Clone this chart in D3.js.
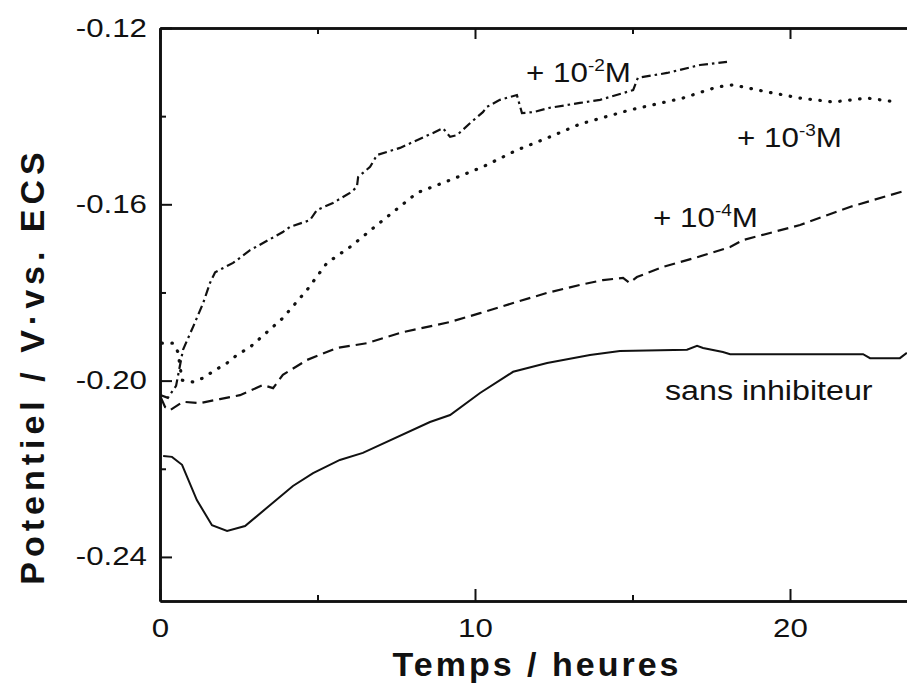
<!DOCTYPE html>
<html lang="fr">
<head>
<meta charset="UTF-8">
<title>Potentiel vs temps</title>
<script src="https://cdn.jsdelivr.net/npm/d3@7"></script>
<style>
  body { margin: 0; background: #fff; }
  text { font-family: "Liberation Sans", Arial, sans-serif; fill: #111; }
</style>
</head>
<body>
<svg id="chart" width="907" height="687"></svg>
<script>
// tick values / labels
const xTicks = [0, 10, 20];
const xMinor = [5, 15];
const yTicks = [-0.24, -0.20, -0.16, -0.12];
const yTickLabels = ["-0.24", "-0.20", "-0.16", "-0.12"];
const yMinor = [-0.22, -0.18, -0.14];

// sans inhibiteur (solid)
const tSans = [0.10,0.38,0.70,1.17,1.65,2.13,2.70,4.22,4.86,5.71,6.44,8.57,9.21,10.16,11.21,12.29,13.65,14.60,16.73,17.05,17.24,17.87,18.10,22.32,22.54,23.49,23.71];
const vSans = [-0.2171,-0.2173,-0.2191,-0.2271,-0.2328,-0.2341,-0.2330,-0.2239,-0.2210,-0.2180,-0.2164,-0.2094,-0.2078,-0.2028,-0.1980,-0.1960,-0.1942,-0.1933,-0.1930,-0.1921,-0.1926,-0.1935,-0.1940,-0.1940,-0.1949,-0.1949,-0.1937];

// + 10-4 M (dashed)
const t4 = [0.03,0.16,0.32,0.73,1.27,1.90,2.54,3.27,3.59,3.90,4.67,5.62,6.57,7.71,9.21,10.16,11.21,12.29,13.33,14.06,14.70,14.90,15.14,15.97,17.05,18.10,18.51,20.32,21.90,23.71];
const v4 = [-0.2039,-0.2060,-0.2067,-0.2048,-0.2051,-0.2042,-0.2033,-0.2010,-0.2017,-0.1987,-0.1953,-0.1926,-0.1915,-0.1890,-0.1867,-0.1847,-0.1824,-0.1801,-0.1783,-0.1772,-0.1767,-0.1778,-0.1765,-0.1742,-0.1720,-0.1697,-0.1681,-0.1647,-0.1606,-0.1568];

// + 10-3 M (dotted)
const t3 = [0.06,0.41,0.57,0.70,1.05,1.37,1.75,2.13,2.44,2.86,3.90,4.67,5.30,6.03,7.08,8.16,9.21,10.25,11.33,12.38,13.33,14.92,16.60,17.68,18.19,19.27,20.32,21.37,22.44,23.40];
const v3 = [-0.1915,-0.1915,-0.1935,-0.1999,-0.2003,-0.1994,-0.1976,-0.1960,-0.1942,-0.1924,-0.1858,-0.1794,-0.1733,-0.1697,-0.1636,-0.1574,-0.1545,-0.1515,-0.1477,-0.1447,-0.1418,-0.1386,-0.1359,-0.1334,-0.1329,-0.1345,-0.1359,-0.1368,-0.1359,-0.1368];

// + 10-2 M (dash-dot)
const t2 = [0.03,0.25,0.51,0.73,1.05,1.37,1.59,1.75,2.32,2.86,3.90,4.13,4.76,4.98,5.49,6.03,6.25,6.29,6.67,6.89,7.62,8.67,8.98,9.21,9.43,9.84,10.25,10.38,10.79,11.33,11.49,11.84,12.38,13.33,13.97,15.02,15.17,16.10,17.14,18.00];
const v2 = [-0.2033,-0.2039,-0.2012,-0.1930,-0.1878,-0.1824,-0.1778,-0.1754,-0.1733,-0.1704,-0.1663,-0.1651,-0.1636,-0.1613,-0.1597,-0.1574,-0.1561,-0.1538,-0.1515,-0.1488,-0.1472,-0.1438,-0.1427,-0.1447,-0.1443,-0.1416,-0.1391,-0.1379,-0.1363,-0.1352,-0.1393,-0.1391,-0.1381,-0.1370,-0.1363,-0.1341,-0.1313,-0.1302,-0.1284,-0.1277];

const svg = d3.select("#chart");
const x = d3.scaleLinear().domain([0, 24]).range([160, 916]);
const y = d3.scaleLinear().domain([-0.25, -0.12]).range([601, 28]);
const stretch = 1.25;

// axes: inward ticks
function styleAxis(g) {
    g.select(".domain").attr("stroke", "#111").attr("stroke-width", 2.6);
    g.selectAll(".tick line").attr("stroke", "#111").attr("stroke-width", 2);
}

const axBottom = svg.append("g").attr("transform", `translate(0,${y(-0.25)})`)
    .call(d3.axisBottom(x).tickValues(xTicks).tickSizeInner(-12).tickSizeOuter(0).tickPadding(14));
axBottom.call(styleAxis);
axBottom.selectAll("text").attr("font-size", 25).attr("dy", 0).attr("y", 36)
    .attr("transform", `scale(${stretch},1)`);

svg.append("g").attr("transform", `translate(0,${y(-0.25)})`)
    .call(d3.axisBottom(x).tickValues(xMinor).tickSizeInner(-6).tickSizeOuter(0).tickFormat(""))
    .call(styleAxis);

svg.append("g").attr("transform", `translate(0,${y(-0.12)})`)
    .call(d3.axisTop(x).tickValues(xTicks).tickSizeInner(-11).tickSizeOuter(0).tickFormat(""))
    .call(styleAxis);
svg.append("g").attr("transform", `translate(0,${y(-0.12)})`)
    .call(d3.axisTop(x).tickValues(xMinor).tickSizeInner(-6).tickSizeOuter(0).tickFormat(""))
    .call(styleAxis);

const axLeft = svg.append("g").attr("transform", `translate(${x(0)},0)`)
    .call(d3.axisLeft(y).tickValues(yTicks).tickSizeInner(-12).tickSizeOuter(0)
        .tickFormat((d, i) => yTickLabels[i]));
axLeft.call(styleAxis);
axLeft.selectAll("text").attr("font-size", 25).attr("x", 0)
    .attr("transform", `translate(-13,0) scale(${stretch},1)`);

svg.append("g").attr("transform", `translate(${x(0)},0)`)
    .call(d3.axisLeft(y).tickValues(yMinor).tickSizeInner(-6).tickSizeOuter(0).tickFormat(""))
    .call(styleAxis);

// curves
const line = d3.line().x(d => x(d[0])).y(d => y(d[1]));
const series = [
    { t: tSans, v: vSans, dash: null, w: 2, cap: "butt" },
    { t: t4, v: v4, dash: "11,6", w: 2.2, cap: "butt" },
    { t: t3, v: v3, dash: "0.5,9.5", w: 3.2, cap: "round" },
    { t: t2, v: v2, dash: "9,4,2.5,4", w: 2.2, cap: "butt" }
];
svg.selectAll("path.curve").data(series).enter().append("path")
    .attr("class", "curve")
    .attr("d", s => line(d3.zip(s.t, s.v)))
    .attr("fill", "none")
    .attr("stroke", "#111")
    .attr("stroke-width", s => s.w)
    .attr("stroke-linecap", s => s.cap)
    .attr("stroke-dasharray", s => s.dash);

// curve labels
function conc(px, py, exp) {
    const t = svg.append("text").attr("font-size", 28)
        .attr("transform", `translate(${px},${py}) scale(1.12,1)`);
    t.append("tspan").text("+ 10");
    t.append("tspan").attr("font-size", 17).attr("dy", -11).text(exp);
    t.append("tspan").attr("dy", 11).text("M");
}
conc(526, 82, "-2");
conc(737, 147, "-3");
conc(653, 227, "-4");
svg.append("text").attr("font-size", 28)
    .attr("transform", "translate(665,400) scale(1.15,1)")
    .text("sans inhibiteur");

// axis titles
svg.append("text").attr("font-size", 34).attr("font-weight", "bold")
    .attr("text-anchor", "middle").attr("letter-spacing", 3)
    .attr("transform", "translate(537,676)")
    .text("Temps / heures");
svg.append("text").attr("font-size", 34).attr("font-weight", "bold")
    .attr("text-anchor", "middle").attr("letter-spacing", 5)
    .attr("transform", "translate(44,366) rotate(-90)")
    .text("Potentiel / V·vs. ECS");
</script>
</body>
</html>
